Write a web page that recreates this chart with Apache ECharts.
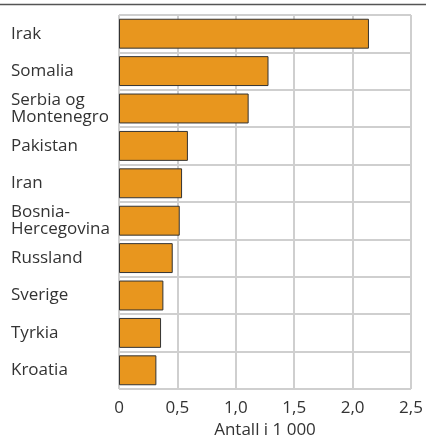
<!DOCTYPE html>
<html>
	<head>
		<meta charset="UTF-8">
		<title>Antall i 1 000</title>
		<script type="text/javascript" src="https://cdn.jsdelivr.net/npm/echarts@6/dist/echarts.min.js"></script>
		<style>
			html, body { margin: 0; padding: 0; background: #fff; }
		</style>
	</head>
	<body>
		<div id="main" style="width: 426px;height:437px;"></div>
		<script type="text/javascript">
		// land og antall (i 1 000)
		var countries = ['Irak', 'Somalia', 'Serbia og\nMontenegro', 'Pakistan', 'Iran',
			'Bosnia-\nHercegovina', 'Russland', 'Sverige', 'Tyrkia', 'Kroatia'];
		var values = [2.14, 1.28, 1.11, 0.59, 0.54, 0.52, 0.46, 0.38, 0.36, 0.32];
		var xTicks = [0, 0.5, 1.0, 1.5, 2.0, 2.5];

		var font = '"Open Sans", "DejaVu Sans", sans-serif';
		var myChart = echarts.init(document.getElementById('main'));

		var option = {
			animation: false,
			graphic: [{
				type: 'line',
				shape: { x1: 0, y1: 4.5, x2: 426, y2: 4.5 },
				style: { stroke: '#555', lineWidth: 1.5 }
			}],
			grid: { left: 119, right: 15, top: 15, bottom: 48, containLabel: false, outerBoundsMode: 'none' },
			xAxis: {
				type: 'value',
				min: xTicks[0],
				max: xTicks[xTicks.length - 1],
				interval: 0.5,
				name: 'Antall i 1 000',
				nameLocation: 'middle',
				nameGap: 32,
				nameTextStyle: { color: '#333', fontSize: 17, fontFamily: font },
				axisLine: { show: false },
				axisTick: { show: false },
				axisLabel: {
					color: '#333', fontSize: 17, fontFamily: font, margin: 11,
					formatter: function (v) { return v === 0 ? '0' : v.toFixed(1).replace('.', ','); }
				},
				splitLine: { show: true, lineStyle: { color: '#cfcfcf', width: 2 } }
			},
			yAxis: {
				type: 'category',
				inverse: true,
				data: countries,
				axisLine: { show: false },
				axisTick: { show: false },
				axisLabel: {
					color: '#333', fontSize: 17, fontFamily: font, align: 'left',
					margin: 108, lineHeight: 17
				},
				splitLine: { show: true, interval: 0, lineStyle: { color: '#cfcfcf', width: 2 } }
			},
			series: [{
				type: 'bar',
				data: values,
				barCategoryGap: '20%',
				itemStyle: { color: '#E8961E', borderColor: '#333', borderWidth: 1 }
			}]
		};
		myChart.setOption(option);
		</script>
	</body>
</html>
